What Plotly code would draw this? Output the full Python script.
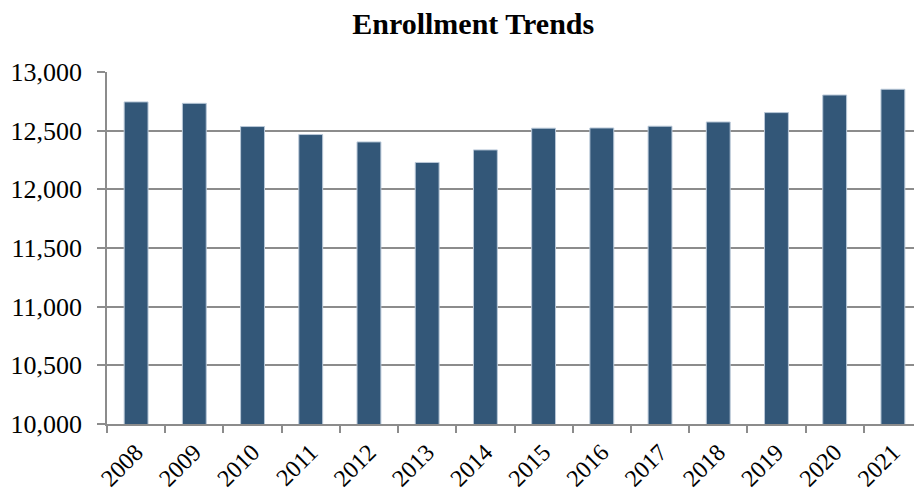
import plotly.graph_objects as go

years = ["2008", "2009", "2010", "2011", "2012", "2013", "2014",
         "2015", "2016", "2017", "2018", "2019", "2020", "2021"]
enrollment = [12745, 12733, 12535, 12467, 12404, 12229, 12336,
              12521, 12523, 12538, 12574, 12654, 12804, 12853]

serif = "Liberation Serif, Times New Roman, serif"

fig = go.Figure()
fig.add_trace(go.Bar(
    x=years,
    y=enrollment,
    marker=dict(color="#335778", line=dict(color="#b9c8d8", width=1)),
))

# the page body has an 8px margin, so the figure is sized to fit the window
fig.update_layout(
    title=dict(text="<b>Enrollment Trends</b>", x=0.509, xanchor="center",
               y=0.969, yanchor="middle",
               font=dict(family=serif, size=30, color="#000000")),
    width=914, height=488,
    margin=dict(l=99, r=0, t=64, b=72),
    paper_bgcolor="white", plot_bgcolor="white",
    bargap=0.59,
    showlegend=False,
    font=dict(family=serif, color="#000000"),
)
fig.update_yaxes(
    range=[10000, 13000], dtick=500, tickformat=",",
    showgrid=True, gridcolor="#8c8c8c", gridwidth=1.5,
    showline=True, linecolor="#8c8c8c", linewidth=1.5,
    ticks="outside", ticklen=8, tickcolor="#8c8c8c", tickwidth=1.5,
    ticklabelstandoff=10,
    tickfont=dict(family=serif, size=26, color="#000000"),
    zeroline=False, automargin=False,
)
fig.update_xaxes(
    type="category", tickangle=-45, tickson="boundaries",
    showline=True, linecolor="#8c8c8c", linewidth=1.5,
    ticks="outside", ticklen=7, tickcolor="#8c8c8c", tickwidth=1.5,
    ticklabelstandoff=3,
    tickfont=dict(family=serif, size=24, color="#000000"),
    automargin=False,
)

fig.write_html("out.html")
